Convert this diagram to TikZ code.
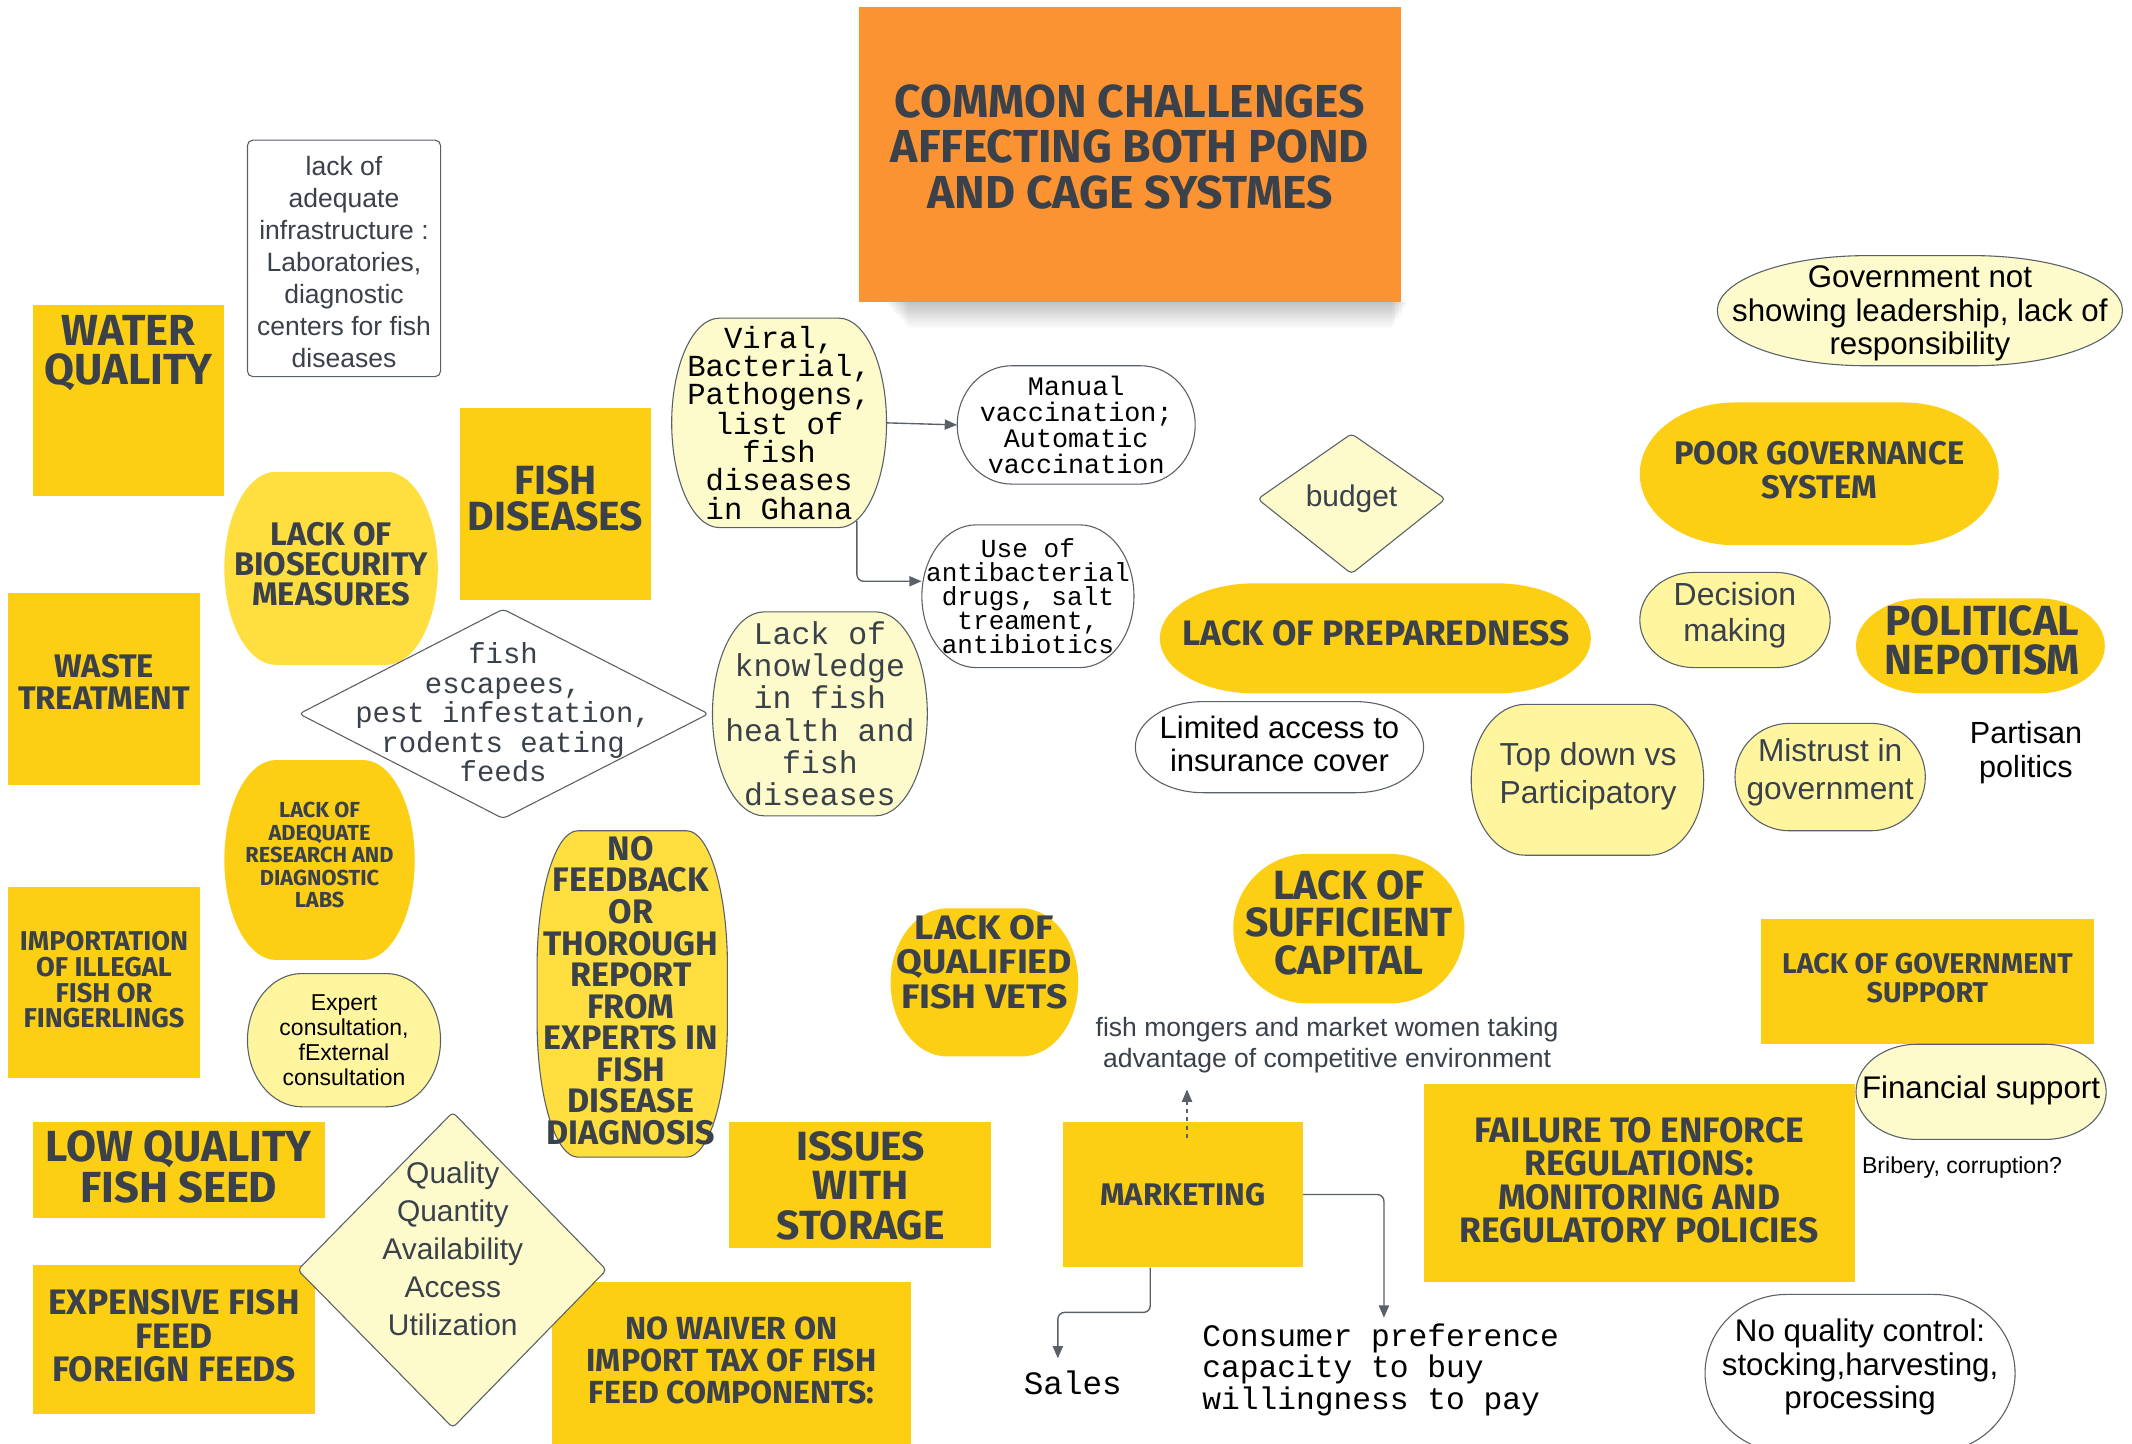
\documentclass[tikz,border=0pt]{standalone}
\usepackage{fontspec}
\setmainfont{Liberation Sans}
\newfontfamily\comic{Fira Sans}
\newfontfamily\comicx{Fira Sans}[FakeStretch=1.1]
\newfontfamily\monof{Liberation Mono}
\usetikzlibrary{arrows.meta,calc}
\definecolor{ink}{HTML}{3A414A}
\definecolor{yel}{HTML}{FCCE14}
\definecolor{yelL}{HTML}{FFDF40}
\definecolor{pale}{HTML}{FDFBCB}
\definecolor{lyel}{HTML}{FFF59F}
\definecolor{org}{HTML}{FB9332}
\definecolor{edge}{HTML}{5A6068}
\newcommand{\barrel}[7]{%
\pgfmathsetmacro\brlka{0.5523*#6}\pgfmathsetmacro\brlkb{0.5523*#7}%
\path[#1] (#2+#6,#3) -- (#4-#6,#3) .. controls (#4-#6+\brlka,#3) and (#4,#3+#7-\brlkb) .. (#4,#3+#7)
 -- (#4,#5-#7) .. controls (#4,#5-#7+\brlkb) and (#4-#6+\brlka,#5) .. (#4-#6,#5)
 -- (#2+#6,#5) .. controls (#2+#6-\brlka,#5) and (#2,#5-#7+\brlkb) .. (#2,#5-#7)
 -- (#2,#3+#7) .. controls (#2,#3+#7-\brlkb) and (#2+#6-\brlka,#3) .. (#2+#6,#3) -- cycle;}
\tikzset{
 cmc/.style 2 args={text=ink, align=center, inner sep=0pt, font=\comic\bfseries\fontsize{#1}{#2}\selectfont},
 cmx/.style 2 args={text=ink, align=center, inner sep=0pt, font=\comicx\bfseries\fontsize{#1}{#2}\selectfont},
 arl/.style 2 args={align=center, inner sep=0pt, font=\normalfont\fontsize{#1}{#2}\selectfont},
 mon/.style 2 args={align=center, inner sep=0pt, font=\monof\fontsize{#1}{#2}\selectfont},
 sh/.style={draw=edge, line width=0.8pt},
 arr/.style={draw=edge, line width=1pt, -{Triangle[length=9pt,width=7.5pt]}}
}
\begin{document}
\begin{tikzpicture}[x=1pt,y=-1pt]
\useasboundingbox (0,0) rectangle (1568,1062);
\fill[white] (0,0) rectangle (1568,1062);
% title shadow
\foreach \i in {1,...,12} \fill[black,opacity=0.02] (650+\i*1.5,222) rectangle (1036-\i*1.0,222+\i*1.6);
\fill[org] (632,5) rectangle (1030,222);
% rectangles
\fill[yel] (24,224) rectangle (165,365);
\fill[yel] (338,300) rectangle (479,441);
\fill[yel] (6,436) rectangle (147,577);
\fill[yel] (6,652) rectangle (147,793);
\fill[yel] (24,825) rectangle (239,896);
\fill[yel] (24,930) rectangle (232,1040);
\fill[yel] (536,825) rectangle (729,918);
\fill[yel] (406,943) rectangle (670,1062);
\fill[yel] (782,825) rectangle (958,932);
\fill[yel] (1295,676) rectangle (1540,768);
\fill[yel] (1047,797) rectangle (1364,943);
\draw[sh, fill=white, rounded corners=4] (182,103) rectangle (324,277);
% rounded shapes
\barrel{fill=yelL}{165}{347}{322}{489}{38}{71}
\barrel{fill=yel}{165}{559}{305}{706}{38}{73.5}
\barrel{sh,fill=lyel}{182}{716}{324}{814}{40}{49}
\barrel{sh,fill=pale}{494}{234}{652}{388}{35}{77}
\barrel{sh,fill=white}{704}{269}{879}{356}{40}{43.5}
\barrel{sh,fill=white}{678}{386}{834}{491}{40}{52.5}
\barrel{sh,fill=pale}{524}{450}{682}{600}{38}{75}
\barrel{sh,fill=yelL}{395}{611}{535}{851}{30}{100}
\barrel{fill=yel}{655}{668}{793}{777}{42}{54.5}
\barrel{fill=yel}{907}{628}{1077}{738}{55}{55}
\barrel{fill=yel}{853}{429}{1170}{510}{70}{40.5}
\barrel{sh,fill=white}{835}{516}{1047}{583}{50}{33.5}
\barrel{sh,fill=lyel}{1082}{518}{1253}{629}{40}{55.5}
\barrel{sh,fill=pale}{1263}{188}{1561}{269}{110}{40.5}
\barrel{fill=yel}{1206}{296}{1470}{401}{70}{52.5}
\barrel{sh,fill=lyel}{1206}{421}{1346}{491}{40}{35}
\barrel{fill=yel}{1365}{440}{1548}{510}{50}{35}
\barrel{sh,fill=lyel}{1276}{532}{1416}{611}{40}{39.5}
\barrel{sh,fill=pale}{1365}{768}{1549}{838}{45}{35}
\barrel{sh,fill=white}{1254}{952}{1482}{1068}{60}{58}
% diamonds
\draw[sh, fill=white, rounded corners=3] (220,525) -- (370,448) -- (521,525) -- (370,602) -- cycle;
\draw[sh, fill=pale, rounded corners=3] (219,934) -- (333,818) -- (446,934) -- (333,1050) -- cycle;
\draw[sh, fill=pale, rounded corners=3] (925,367) -- (994,319) -- (1063,367) -- (994,422) -- cycle;
% comic texts
\node[cmc={34}{33.5}] (title) at (831,108) {COMMON CHALLENGES\\AFFECTING BOTH POND\\AND CAGE SYSTMES};
\node[cmc={32}{29}] (water) at (94.5,259.5) {WATER\\QUALITY};
\node[cmc={30}{27}] (fishdis) at (408.5,366.5) {FISH\\DISEASES};
\node[cmc={24}{23}] (waste) at (76.5,501.5) {WASTE\\TREATMENT};
\node[cmc={20}{19}] (import) at (76.5,720.5) {IMPORTATION\\OF ILLEGAL\\FISH OR\\FINGERLINGS};
\node[cmc={32}{30}] (lowq) at (131.5,858) {LOW QUALITY\\FISH SEED};
\node[cmc={26}{24.5}] (expfeed) at (128,982.5) {EXPENSIVE FISH\\FEED\\FOREIGN FEEDS};
\node[cmc={24}{22}] (bio) at (243.5,415) {LACK OF\\BIOSECURITY\\MEASURES};
\node[cmc={16}{16.5}] (research) at (235,629) {LACK OF\\ADEQUATE\\RESEARCH AND\\DIAGNOSTIC\\LABS};
\node[cmc={25}{23.2}] (nofeed) at (464,728.5) {NO\\FEEDBACK\\OR\\THOROUGH\\REPORT\\FROM\\EXPERTS IN\\FISH\\DISEASE\\DIAGNOSIS};
\node[cmx={25}{25.5}] (vets) at (724,707.5) {LACK OF\\QUALIFIED\\FISH VETS};
\node[cmc={30}{29}] (storage) at (633,872) {ISSUES\\WITH\\STORAGE};
\node[cmc={23.5}{23.5}] (waiver) at (538,1000.5) {NO WAIVER ON\\IMPORT TAX OF FISH\\FEED COMPONENTS:};
\node[cmc={23}{23}, minimum width=176, minimum height=107] (marketing) at (870,878.5) {MARKETING};
\node[cmc={30}{27.5}] (capital) at (992,678.5) {LACK OF\\SUFFICIENT\\CAPITAL};
\node[cmc={26}{26}] (prepared) at (1012,466) {LACK OF PREPAREDNESS};
\node[cmc={24}{25}] (poor) at (1338,345.5) {POOR GOVERNANCE\\SYSTEM};
\node[cmc={31}{28}] (political) at (1458,471) {POLITICAL\\NEPOTISM};
\node[cmc={21}{21}] (govsupport) at (1417.5,719.5) {LACK OF GOVERNMENT\\SUPPORT};
\node[cmc={26}{24.5}] (failure) at (1205.5,868) {FAILURE TO ENFORCE\\REGULATIONS:\\MONITORING AND\\REGULATORY POLICIES};
% sans texts
\node[arl={19.5}{23.5}, text=ink] (infra) at (253,192.5) {lack of\\adequate\\infrastructure :\\Laboratories,\\diagnostic\\centers for fish\\diseases};
\node[arl={16.9}{18.5}] (expert) at (253,765) {Expert\\consultation,\\fExternal\\consultation};
\node[arl={22}{28}, text=ink] (quality) at (333,918.5) {Quality\\Quantity\\Availability\\Access\\Utilization};
\node[arl={22}{22}, text=ink] (budget) at (994,367) {budget};
\node[arl={22.8}{24}] (limited) at (941,547) {Limited access to\\insurance cover};
\node[arl={23.4}{28}, text=ink] (topdown) at (1168,571) {Top down vs\\Participatory};
\node[arl={23}{24.5}] (gov) at (1412,230.5) {Government not\\showing leadership, lack of\\responsibility};
\node[arl={23.5}{27}, text=ink] (decision) at (1276,452.5) {Decision\\making};
\node[arl={23.3}{28}, text=ink] (mistrust) at (1346,568) {Mistrust in\\government};
\node[arl={22.5}{25}] (partisan) at (1490,553.5) {Partisan\\politics};
\node[arl={23}{23}] (financial) at (1457,802) {Financial support};
\node[arl={17}{17}] (bribery) at (1443,859) {Bribery, corruption?};
\node[arl={23}{24.5}] (noqc) at (1368,1005.5) {No quality control:\\stocking,harvesting,\\processing};
\node[arl={19.5}{23}, text=ink] (mongers) at (976,768.5) {fish mongers and market women taking\\advantage of competitive environment};
% mono texts
\node[mon={21.3}{21.7}, text=ink] (escapees) at (370,524) {fish\\escapees,\\pest infestation,\\rodents eating\\feeds};
\node[mon={22.5}{20.7}, minimum width=158, minimum height=154] (viral) at (573,311) {Viral,\\Bacterial,\\Pathogens,\\list of\\fish\\diseases\\in Ghana};
\node[mon={19.7}{19}, minimum width=175, minimum height=87] (manual) at (791.5,312.5) {Manual\\vaccination;\\Automatic\\vaccination};
\node[mon={19.2}{17.5}, minimum width=156, minimum height=105] (use) at (756,438.5) {Use of\\antibacterial\\drugs, salt\\treament,\\antibiotics};
\node[mon={23.2}{23.7}, text=ink] (knowledge) at (603,525) {Lack of\\knowledge\\in fish\\health and\\fish\\diseases};
\node[mon={24}{24}] (sales) at (789,1017) {Sales};
\node[mon={23}{23.5}, align=left, anchor=west] (consumer) at (884,1007.5) {Consumer preference\\capacity to buy\\willingness to pay};
% connectors
\draw[arr] (viral.east) -- (manual.west);
\draw[arr, rounded corners=5] ([xshift=-22pt,yshift=5pt]viral.south east) |- ([yshift=11pt]use.west);
\draw[arr, dashed] ([xshift=3pt,yshift=-12pt]marketing.north) -- ([xshift=3pt,yshift=-12pt]marketing.north |- mongers.south);
\draw[arr, rounded corners=5] ([xshift=-24pt]marketing.south) -- ++(0,33) -| ([xshift=-11pt,yshift=9pt]sales.north);
\draw[arr, rounded corners=5] (marketing.east) -| ([xshift=2.5pt,yshift=4pt]consumer.north);
\end{tikzpicture}
\end{document}
